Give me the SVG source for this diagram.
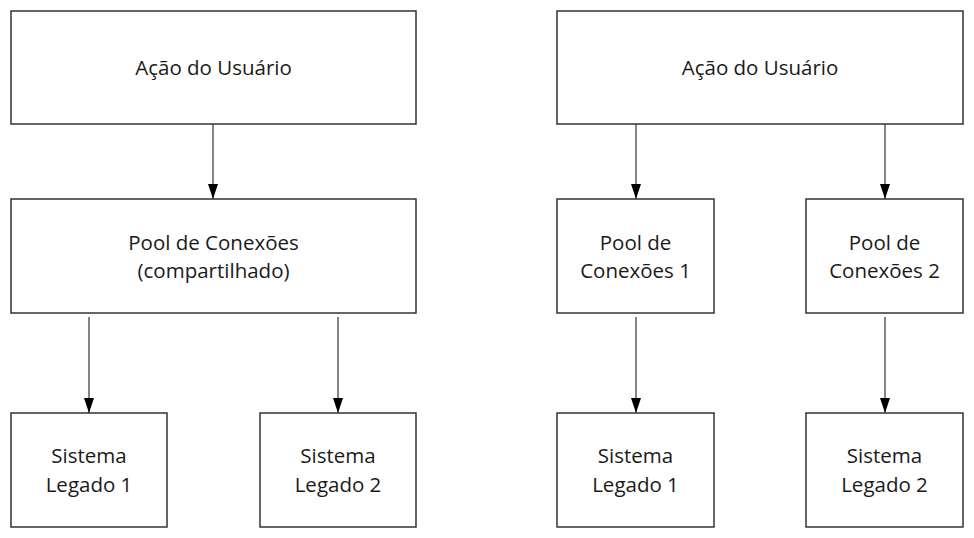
<svg xmlns="http://www.w3.org/2000/svg" width="974" height="538" viewBox="0 0 974 538">
  <style>
    .box { fill: #ffffff; stroke: #333333; stroke-width: 1.5; }
    .lbl { font-family: "Open Sans", "Noto Sans", "Liberation Sans", sans-serif; font-size: 20.5px; fill: #1a1a1a; text-anchor: middle; }
    .edge { stroke: #333333; stroke-width: 1.2; fill: none; marker-end: url(#arrow); }
  </style>
  <defs>
    <marker id="arrow" viewBox="0 0 15 10" refX="15" refY="5" markerWidth="15" markerHeight="10" markerUnits="userSpaceOnUse" orient="auto">
      <path d="M0,0 L15,5 L0,10 z" fill="#000000"/>
    </marker>
  </defs>
  <rect width="974" height="538" fill="#ffffff"/>

  <g id="connectors">
    <line class="edge" x1="213" y1="124" x2="213" y2="199"/>
    <line class="edge" x1="89" y1="317" x2="89" y2="413"/>
    <line class="edge" x1="338" y1="317" x2="338" y2="413"/>
    <line class="edge" x1="636" y1="124" x2="636" y2="199"/>
    <line class="edge" x1="885" y1="124" x2="885" y2="199"/>
    <line class="edge" x1="636" y1="317" x2="636" y2="413"/>
    <line class="edge" x1="885" y1="317" x2="885" y2="413"/>
  </g>

  <g id="left-user-action">
    <rect class="box" x="11" y="11" width="405" height="113"/>
    <text class="lbl" x="213.5" y="75">Ação do Usuário</text>
  </g>
  <g id="left-shared-pool">
    <rect class="box" x="11" y="199" width="405" height="114"/>
    <text class="lbl" x="213.5" y="250">Pool de Conexões</text>
    <text class="lbl" x="213.5" y="278">(compartilhado)</text>
  </g>
  <g id="left-legacy-1">
    <rect class="box" x="11" y="413" width="156" height="114"/>
    <text class="lbl" x="89" y="463">Sistema</text>
    <text class="lbl" x="89" y="492">Legado 1</text>
  </g>
  <g id="left-legacy-2">
    <rect class="box" x="260" y="413" width="156" height="114"/>
    <text class="lbl" x="338" y="463">Sistema</text>
    <text class="lbl" x="338" y="492">Legado 2</text>
  </g>

  <g id="right-user-action">
    <rect class="box" x="557" y="11" width="406" height="113"/>
    <text class="lbl" x="760" y="75">Ação do Usuário</text>
  </g>
  <g id="right-pool-1">
    <rect class="box" x="557" y="199" width="157" height="114"/>
    <text class="lbl" x="635.5" y="250">Pool de</text>
    <text class="lbl" x="635.5" y="278">Conexões 1</text>
  </g>
  <g id="right-pool-2">
    <rect class="box" x="806" y="199" width="157" height="114"/>
    <text class="lbl" x="884.5" y="250">Pool de</text>
    <text class="lbl" x="884.5" y="278">Conexões 2</text>
  </g>
  <g id="right-legacy-1">
    <rect class="box" x="557" y="413" width="157" height="114"/>
    <text class="lbl" x="635.5" y="463">Sistema</text>
    <text class="lbl" x="635.5" y="492">Legado 1</text>
  </g>
  <g id="right-legacy-2">
    <rect class="box" x="806" y="413" width="157" height="114"/>
    <text class="lbl" x="884.5" y="463">Sistema</text>
    <text class="lbl" x="884.5" y="492">Legado 2</text>
  </g>
</svg>
